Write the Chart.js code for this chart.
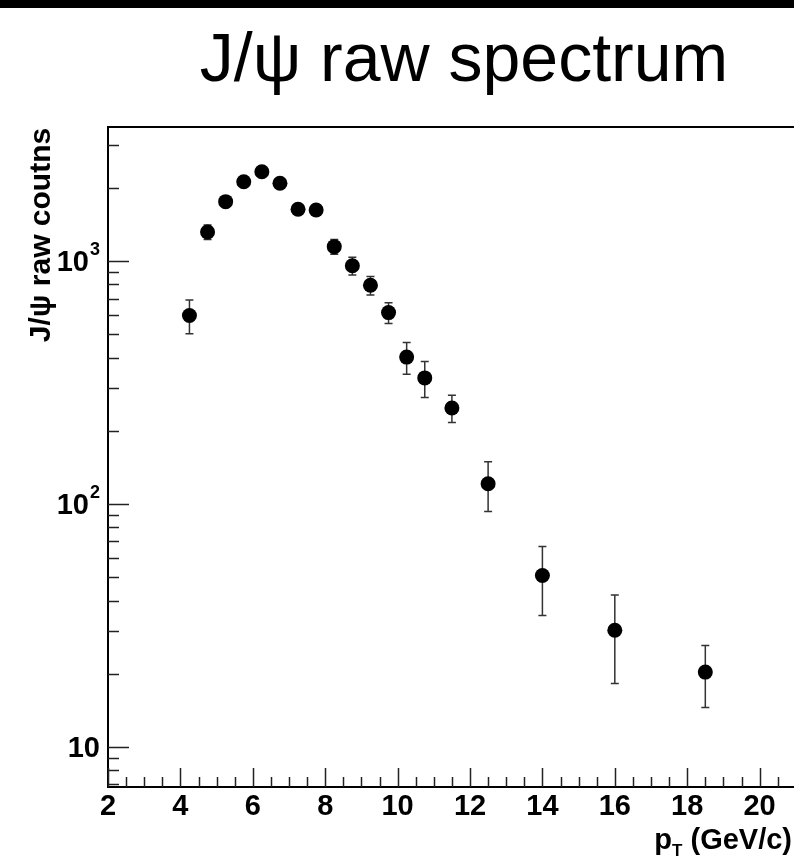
<!DOCTYPE html>
<html>
<head>
<meta charset="utf-8">
<script src="https://cdn.jsdelivr.net/npm/chart.js@4.4.1/dist/chart.umd.min.js"></script>
<style>
  html, body { margin: 0; padding: 0; background: #fff; overflow: hidden; }
  #wrap { width: 794px; height: 862px; }
</style>
</head>
<body>
<div id="wrap"><canvas id="spectrum"></canvas></div>
<script>
// pT bin centres (GeV/c), raw J/psi counts and their errors
const ptBins = [4.25, 4.75, 5.25, 5.75, 6.25, 6.75, 7.25, 7.75, 8.25, 8.75, 9.25, 9.75, 10.25, 10.75, 11.5, 12.5, 14, 16, 18.5];
const rawCounts = [596, 1316, 1754, 2120, 2330, 2090, 1633, 1622, 1145, 956, 794, 613, 402, 330, 248, 121, 50.7, 30.2, 20.3];
const countErrors = [95, 90, 80, 80, 85, 80, 75, 75, 80, 80, 70, 60, 60, 56, 32, 28, 16, 12, 5.8];

const xTickValues = [2, 4, 6, 8, 10, 12, 14, 16, 18, 20];
const yTickValues = [10, 100, 1000];
const yTickExponents = { 10: '', 100: '2', 1000: '3' };

const FONT = '"Liberation Sans", Arial, Helvetica, sans-serif';

const points = ptBins.map((x, i) => ({ x: x, y: rawCounts[i], err: countErrors[i] }));

const rootStyle = {
  id: 'rootStyle',
  beforeDraw(chart) {
    const ctx = chart.ctx;
    ctx.save();
    ctx.fillStyle = '#fff';
    ctx.fillRect(0, 0, chart.width, chart.height);
    ctx.fillStyle = '#000';
    ctx.fillRect(0, 0, chart.width, 8);
    ctx.restore();
  },
  beforeDatasetsDraw(chart) {
    // error bars under the markers
    const ctx = chart.ctx;
    const xs = chart.scales.x, ys = chart.scales.y;
    ctx.save();
    ctx.strokeStyle = '#333';
    ctx.lineWidth = 1.5;
    points.forEach(p => {
      const px = xs.getPixelForValue(p.x);
      const top = ys.getPixelForValue(p.y + p.err);
      const bot = ys.getPixelForValue(p.y - p.err);
      ctx.beginPath();
      ctx.moveTo(px, top); ctx.lineTo(px, bot);
      ctx.moveTo(px - 4, top); ctx.lineTo(px + 4, top);
      ctx.moveTo(px - 4, bot); ctx.lineTo(px + 4, bot);
      ctx.stroke();
    });
    ctx.restore();
  },
  afterDraw(chart) {
    const ctx = chart.ctx;
    const area = chart.chartArea;
    const xs = chart.scales.x, ys = chart.scales.y;
    ctx.save();

    // top frame line
    ctx.strokeStyle = '#000';
    ctx.lineWidth = 2;
    ctx.beginPath();
    ctx.moveTo(area.left, area.top);
    ctx.lineTo(chart.width, area.top);
    ctx.stroke();

    // inward ticks, ROOT style
    ctx.strokeStyle = '#222';
    ctx.lineWidth = 1.5;
    ctx.beginPath();
    for (let v = xs.min; v <= xs.max + 1e-9; v += 0.5) {
      const px = Math.round(xs.getPixelForValue(v)) + 0.5;
      const len = (v % 2 === 0) ? 19 : 10;
      ctx.moveTo(px, area.bottom);
      ctx.lineTo(px, area.bottom - len);
    }
    for (let e = 0; e <= 3; e++) {
      for (let k = 1; k <= 9; k++) {
        const v = k * Math.pow(10, e);
        if (v < ys.min || v > ys.max) continue;
        const py = Math.round(ys.getPixelForValue(v)) + 0.5;
        const len = k === 1 ? 21 : 11;
        ctx.moveTo(area.left, py);
        ctx.lineTo(area.left + len, py);
      }
    }
    ctx.stroke();

    // y tick labels: 10, 10^2, 10^3 with real superscripts
    ctx.fillStyle = '#000';
    ctx.textBaseline = 'alphabetic';
    ctx.textAlign = 'left';
    yTickValues.forEach(v => {
      const py = ys.getPixelForValue(v);
      const exp = yTickExponents[v];
      ctx.font = 'bold 18px ' + FONT;
      const wExp = exp ? ctx.measureText(exp).width + 1 : 0;
      ctx.font = 'bold 29px ' + FONT;
      const wBase = ctx.measureText('10').width;
      const right = area.left - 8;
      ctx.fillText('10', right - wExp - wBase, py + 10.5);
      if (exp) {
        ctx.font = 'bold 18px ' + FONT;
        ctx.fillText(exp, right - wExp + 1, py - 6);
      }
    });

    // title
    ctx.font = '68px ' + FONT;
    ctx.textAlign = 'center';
    ctx.fillText('J/ψ raw spectrum', 464, 81);

    // y axis title
    ctx.save();
    ctx.translate(50, 235);
    ctx.rotate(-Math.PI / 2);
    ctx.font = 'bold 30px ' + FONT;
    ctx.textAlign = 'center';
    ctx.fillText('J/ψ raw coutns', 0, 0);
    ctx.restore();

    // x axis title with subscript T
    const big = 'bold 29px ' + FONT, small = 'bold 17px ' + FONT;
    ctx.textAlign = 'left';
    ctx.font = big;
    const wP = ctx.measureText('p').width;
    const wRest = ctx.measureText(' (GeV/c)').width;
    ctx.font = small;
    const wT = ctx.measureText('T').width;
    const x0 = 792 - (wP + wT + wRest);
    const base = 849;
    ctx.font = big;
    ctx.fillText('p', x0, base);
    ctx.font = small;
    ctx.fillText('T', x0 + wP, base + 7);
    ctx.font = big;
    ctx.fillText(' (GeV/c)', x0 + wP + wT, base);

    ctx.restore();
  }
};

new Chart(document.getElementById('spectrum'), {
  type: 'scatter',
  data: {
    datasets: [{
      label: 'J/psi raw counts',
      data: points,
      backgroundColor: '#000',
      borderColor: '#000',
      pointRadius: 7.5,
      pointHoverRadius: 7.5,
      borderWidth: 0
    }]
  },
  options: {
    responsive: true,
    maintainAspectRatio: false,
    animation: false,
    events: [],
    layout: { autoPadding: false, padding: { top: 127, right: 0, left: 0, bottom: 0 } },
    plugins: {
      legend: { display: false },
      tooltip: { enabled: false },
      title: { display: false }
    },
    scales: {
      x: {
        type: 'linear',
        min: 2,
        max: 20.95,
        afterFit: s => { s.height = 75; s.paddingLeft = 0; s.paddingRight = 0; },
        afterBuildTicks: s => { s.ticks = xTickValues.map(v => ({ value: v })); },
        grid: { display: false, drawTicks: false },
        border: { display: true, color: '#000', width: 2 },
        ticks: {
          padding: 3,
          maxRotation: 0,
          autoSkip: false,
          color: '#000',
          font: { family: FONT, size: 29, weight: 'bold' },
          callback: v => String(v)
        }
      },
      y: {
        type: 'logarithmic',
        min: 6.83,
        max: 3560,
        afterFit: s => { s.width = 108; s.paddingTop = 0; s.paddingBottom = 0; },
        afterBuildTicks: s => { s.ticks = yTickValues.map(v => ({ value: v })); },
        grid: { display: false, drawTicks: false },
        border: { display: true, color: '#000', width: 2 },
        ticks: { display: false }
      }
    }
  },
  plugins: [rootStyle]
});
</script>
</body>
</html>
